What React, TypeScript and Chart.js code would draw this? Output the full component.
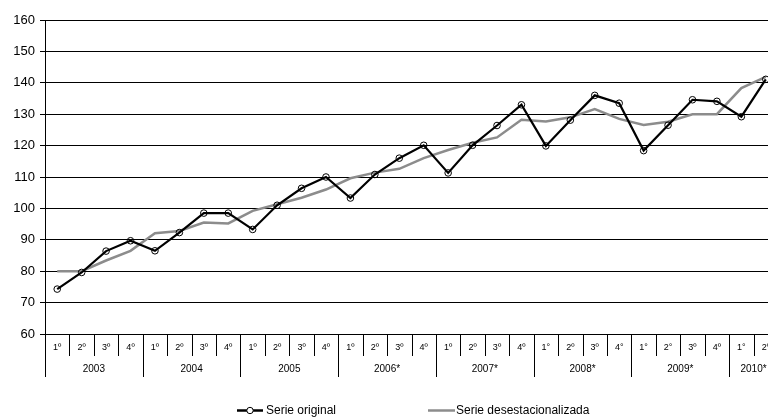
import React, { useEffect, useRef } from "react";
import { Chart, registerables } from "chart.js";

Chart.register(...registerables);

const quarters = [
  "1º", "2º", "3º", "4º",
  "1º", "2º", "3º", "4º",
  "1º", "2º", "3º", "4º",
  "1º", "2º", "3º", "4º",
  "1º", "2º", "3º", "4º",
  "1°", "2º", "3º", "4°",
  "1°", "2°", "3º", "4º",
  "1°", "2º",
];
const years = ["2003", "2004", "2005", "2006*", "2007*", "2008*", "2009*", "2010*"];
const serieOriginal = [
  74.3, 79.6, 86.4, 89.7,
  86.5, 92.3, 98.5, 98.5,
  93.3, 101.0, 106.4, 110.0,
  103.3, 110.8, 116.0, 120.1,
  111.3, 120.1, 126.4, 133.0,
  119.9, 128.1, 136.0, 133.5,
  118.4, 126.5, 134.6, 134.1,
  129.2, 141.1,
];
const serieDesestacionalizada = [
  80.0, 80.0, 83.4, 86.5,
  92.1, 92.8, 95.5, 95.2,
  99.2, 101.3, 103.4, 106.0,
  109.6, 111.4, 112.6, 116.0,
  118.6, 120.9, 122.6, 128.2,
  127.7, 129.0, 131.6, 128.5,
  126.6, 127.6, 130.0, 130.0,
  138.3, 141.9,
];
const yTicks = [60, 70, 80, 90, 100, 110, 120, 130, 140, 150, 160];

const FONT = "'Liberation Sans', Arial, sans-serif";

const axisPlugin = {
  id: "twoLevelAxis",
  afterDraw(chart: any) {
    const ctx = chart.ctx;
    const xs = chart.scales.x;
    const area = chart.chartArea;
    const n = quarters.length;
    const w = xs.getPixelForValue(1) - xs.getPixelForValue(0);
    const bottom = area.bottom;
    ctx.save();
    ctx.strokeStyle = "#000";
    ctx.lineWidth = 1;
    for (let i = 0; i <= n; i++) {
      const bx = Math.round(xs.getPixelForValue(0) - w / 2 + i * w) + 0.5;
      const len = i % 4 === 0 ? 43 : 22;
      ctx.beginPath();
      ctx.moveTo(bx, bottom);
      ctx.lineTo(bx, bottom + len);
      ctx.stroke();
    }
    ctx.fillStyle = "#000";
    ctx.textAlign = "center";
    ctx.textBaseline = "middle";
    ctx.font = `9px ${FONT}`;
    for (let i = 0; i < n; i++) {
      ctx.fillText(quarters[i], xs.getPixelForValue(i), bottom + 14);
    }
    ctx.font = `10px ${FONT}`;
    years.forEach((y, k) => {
      const first = k * 4;
      const last = Math.min(first + 3, n - 1);
      const cx = (xs.getPixelForValue(first) + xs.getPixelForValue(last)) / 2;
      ctx.fillText(y, cx, bottom + 35);
    });

    // legend
    const ly = 410.5;
    ctx.font = `12px ${FONT}`;
    ctx.textAlign = "left";
    ctx.strokeStyle = "#000";
    ctx.lineWidth = 2.5;
    ctx.beginPath();
    ctx.moveTo(237, ly);
    ctx.lineTo(263, ly);
    ctx.stroke();
    ctx.lineWidth = 1;
    ctx.fillStyle = "#fff";
    ctx.beginPath();
    ctx.arc(250, ly, 3.2, 0, Math.PI * 2);
    ctx.fill();
    ctx.stroke();
    ctx.fillStyle = "#000";
    ctx.fillText("Serie original", 266, ly);
    ctx.strokeStyle = "#8c8c8c";
    ctx.lineWidth = 2.5;
    ctx.beginPath();
    ctx.moveTo(428, ly);
    ctx.lineTo(455, ly);
    ctx.stroke();
    ctx.fillStyle = "#000";
    ctx.fillText("Serie desestacionalizada", 456, ly);
    ctx.restore();
  },
};

export default function App() {
  const ref = useRef<HTMLCanvasElement>(null);
  useEffect(() => {
    if (!ref.current) return;
    const chart = new Chart(ref.current, {
      type: "line",
      data: {
        labels: quarters,
        datasets: [
          {
            label: "Serie original",
            data: serieOriginal,
            borderColor: "#000",
            borderWidth: 2.2,
            pointRadius: 3.3,
            pointBorderWidth: 1,
            pointBorderColor: "#000",
            pointBackgroundColor: "rgba(255,255,255,0)",
            tension: 0,
          },
          {
            label: "Serie desestacionalizada",
            data: serieDesestacionalizada,
            borderColor: "#8c8c8c",
            borderWidth: 2.5,
            pointRadius: 0,
            tension: 0,
          },
        ],
      },
      options: {
        responsive: false,
        animation: false,
        layout: { padding: { top: 20, left: 0, right: 0, bottom: 0 } },
        plugins: { legend: { display: false }, tooltip: { enabled: false } },
        scales: {
          x: {
            type: "category",
            offset: true,
            ticks: { display: false },
            grid: { display: false },
            border: { display: true, color: "#000", width: 1 },
            afterFit(scale: any) {
              scale.height = 86;
            },
          },
          y: {
            min: 60,
            max: 160,
            afterBuildTicks(scale: any) {
              scale.ticks = yTicks.map((v) => ({ value: v }));
            },
            ticks: {
              color: "#000",
              padding: 5,
              font: { family: FONT, size: 13 },
            },
            grid: { color: "#000", lineWidth: 1, tickLength: 5, drawTicks: true },
            border: { display: true, color: "#000", width: 1 },
            afterFit(scale: any) {
              scale.width = 45;
            },
          },
        },
      },
      plugins: [axisPlugin],
    });
    return () => chart.destroy();
  }, []);
  return (
    <div
      style={{
        position: "absolute",
        left: 0,
        top: 0,
        width: 768,
        height: 420,
        overflow: "hidden",
        background: "#fff",
      }}
    >
      <canvas ref={ref} width={783} height={420} style={{ display: "block" }} />
    </div>
  );
}
